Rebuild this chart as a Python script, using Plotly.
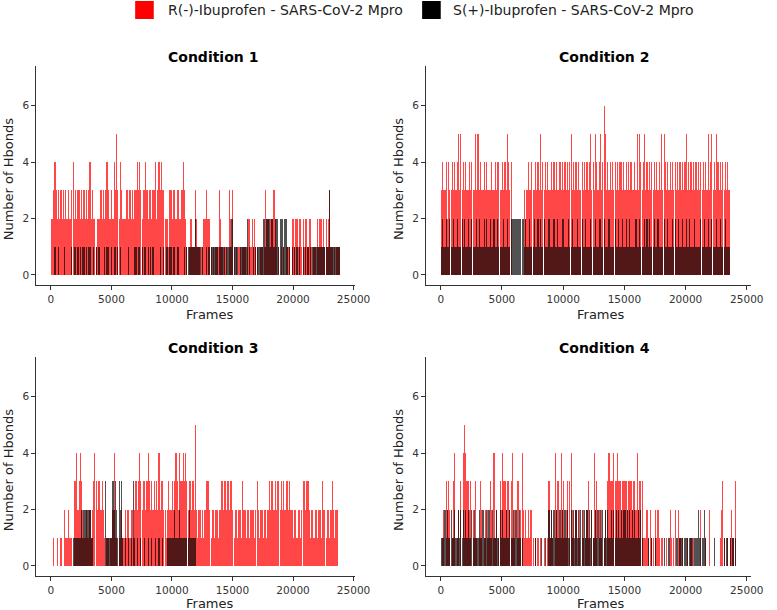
import plotly.graph_objects as go

FRAME_STEP = 100  # frames per plotted bin

# ---- Condition 1 ----
R1 = [2,2,3,4,3,2,3,2,3,2, 3,2,3,2,3,2,2,3,4,2, 3,2,3,3,2,3,2,3,2,3, 2,3,4,2,3,2,2,1,2,2,
      2,3,2,3,2,3,4,3,2,2, 3,2,4,3,5,3,2,4,3,2, 2,2,3,3,2,3,2,3,2,3, 3,4,3,4,3,2,3,3,4,3,
      2,3,3,2,3,3,4,2,3,4, 3,4,3,3,2,2,2,1,3,3, 2,3,3,2,3,3,2,2,3,4, 3,2,1,0,1,2,2,1,1,3,
      2,1,1,0,1,1,2,2,3,2, 2,2,1,0,1,0,1,1,1,3, 2,1,0,1,1,1,0,3,2,1, 3,1,0,1,0,1,1,0,1,1,
      1,0,1,2,2,1,2,1,2,1, 1,0,0,1,1,0,1,3,2,2, 1,2,2,2,3,2,1,0,1,0, 1,0,1,0,1,1,1,1,0,2,
      2,1,2,2,1,2,2,1,2,1, 2,2,1,2,2,1,0,1,1,0, 2,1,2,2,1,2,1,2,1,2, 3,1,1,0,1,0,1,1,1,0]
S1 = [0,0,0,1,0,0,1,0,0,0, 0,1,0,0,0,0,0,1,0,1, 1,0,1,0,1,0,1,1,0,1, 0,1,1,0,0,1,0,1,0,1,
      1,0,0,0,1,0,1,1,0,0, 1,0,1,1,0,1,0,1,0,0, 0,0,0,0,1,0,0,0,0,1, 1,0,1,1,0,1,0,1,1,0,
      1,0,1,0,1,0,0,0,0,0, 1,0,0,1,0,1,1,0,1,1, 0,1,1,0,1,1,0,0,0,0, 1,0,1,1,1,1,1,1,1,2,
      1,1,1,1,0,1,0,0,1,0, 1,1,1,1,1,1,1,1,0,1, 1,1,1,1,0,1,1,1,1,2, 2,1,1,1,1,0,1,1,1,1,
      1,1,2,0,1,0,0,1,0,1, 1,1,1,1,1,2,2,1,2,2, 2,1,2,2,1,2,2,2,1,2, 2,2,1,2,2,1,0,1,0,1,
      0,1,0,1,0,1,0,0,1,0, 1,0,1,0,1,0,1,1,1,1, 1,1,1,1,1,1,1,1,1,1, 3,1,1,1,1,1,1,1,1,0]

# ---- Condition 2 ----
R2 = [3,4,3,3,4,2,4,3,3,4, 3,4,3,4,5,3,5,3,4,3, 4,3,3,4,3,4,3,3,5,3, 5,3,4,3,3,4,3,4,3,3,
      3,4,3,3,4,3,4,4,3,3, 4,3,4,3,5,4,3,4,0,0, 0,0,0,0,0,0,0,0,3,2, 3,4,3,3,4,3,3,4,3,4,
      3,5,3,4,3,4,3,4,3,3, 4,3,4,3,4,3,3,4,3,4, 3,4,3,4,3,4,5,3,4,3, 4,3,4,3,3,4,3,4,3,4,
      3,4,5,3,4,3,5,4,3,4, 5,3,4,6,5,3,4,3,4,3, 4,3,4,3,4,3,4,4,3,4, 3,4,3,4,3,4,3,3,4,3,
      5,3,5,4,3,4,5,3,4,3, 4,3,4,3,4,3,4,3,4,3, 5,3,5,4,3,4,3,4,3,4, 3,4,3,4,3,4,3,4,3,4,
      5,3,4,3,4,3,4,3,4,3, 4,3,4,3,4,3,4,3,5,3, 4,5,3,4,3,5,4,3,4,3, 4,3,4,3,4,3,0,0,0,0]
S2 = [1,2,1,1,2,1,1,2,1,1, 2,1,1,2,1,1,1,2,1,2, 1,1,2,1,1,2,1,1,1,2, 1,2,1,1,1,2,1,2,1,1,
      2,1,1,2,1,1,2,1,1,1, 1,2,1,1,2,1,1,2,2,2, 2,2,2,2,2,2,2,2,1,2, 1,1,2,1,1,1,2,1,1,2,
      1,2,1,1,2,1,1,1,2,1, 1,1,2,1,1,2,1,1,1,2, 2,1,1,1,2,1,1,2,1,1, 1,2,1,1,1,2,1,1,2,1,
      1,1,2,1,1,1,2,1,1,2, 2,1,1,2,1,1,1,2,1,1, 1,1,2,1,1,2,1,1,2,1, 1,2,1,1,2,1,1,1,1,2,
      1,1,2,1,1,1,2,1,2,1, 2,1,1,1,2,1,1,2,1,1, 1,1,2,1,1,2,1,1,1,2, 1,2,1,1,2,1,1,2,1,1,
      2,1,1,2,1,1,1,2,1,1, 1,1,2,1,1,2,1,1,2,1, 1,2,1,1,1,2,1,1,2,1, 1,1,2,1,1,1,0,0,0,0]

# ---- Condition 3 ----
R3 = [0,0,1,0,0,1,0,0,1,0, 0,2,1,1,2,1,1,1,0,3, 3,4,2,3,4,3,2,1,1,2, 1,1,2,1,2,3,4,3,2,3,
      3,2,3,2,1,0,1,1,0,1, 1,2,4,1,1,0,1,1,2,1, 1,2,1,2,2,1,2,2,1,2, 3,2,3,4,3,2,3,3,2,3,
      4,3,2,3,2,3,2,3,2,4, 2,3,3,2,2,1,2,3,2,2, 3,2,3,4,3,2,4,3,3,4, 3,4,3,2,3,3,2,3,2,5,
      2,1,2,2,1,2,1,2,3,3, 3,2,1,2,2,1,2,2,1,2, 2,3,2,3,3,2,3,2,3,3, 2,1,2,2,1,2,2,1,3,2,
      2,1,2,2,1,2,2,2,1,2, 3,2,1,2,2,1,2,2,1,2, 3,2,3,3,2,3,2,3,3,2, 3,2,3,2,3,3,2,3,2,2,
      1,2,2,1,2,2,1,2,3,3, 2,3,3,2,1,2,2,1,2,2, 1,2,2,1,3,2,2,1,2,2, 1,2,3,2,1,2,2,0,0,0]
S3 = [0,0,0,0,0,0,0,0,0,0, 0,0,0,0,0,0,0,0,1,1, 1,1,1,1,1,2,1,2,2,2, 2,2,2,1,1,0,0,0,0,0,
      0,0,0,0,0,3,1,1,1,1, 1,3,2,3,2,1,3,2,3,1, 0,1,0,0,1,0,1,0,3,1, 0,1,0,0,1,0,0,1,0,0,
      1,0,0,1,0,0,1,0,0,1, 0,0,1,0,0,0,1,1,1,1, 1,1,2,1,1,1,2,1,1,1, 1,1,1,1,2,1,1,1,1,1]

# ---- Condition 4 ----
R4 = [0,1,2,0,3,2,3,2,0,1, 3,4,0,1,2,0,3,0,4,5, 4,3,3,2,3,0,2,1,3,1, 0,1,3,2,0,1,2,0,2,1,
      3,2,0,4,1,2,0,1,3,2, 4,3,3,2,3,3,2,3,4,1, 2,0,3,3,1,2,4,2,1,2, 1,2,1,2,2,1,0,1,0,1,
      0,1,0,0,1,0,0,1,3,1, 2,1,0,4,2,3,3,1,4,2, 3,1,2,3,0,3,4,2,1,0, 2,0,1,2,0,1,2,0,1,2,
      3,1,0,2,1,4,2,3,0,2, 1,2,0,1,2,0,3,4,3,3, 3,4,3,3,4,3,3,2,3,3, 3,3,2,3,3,3,2,3,3,2,
      4,2,3,3,3,1,1,1,2,1, 0,2,1,1,0,2,1,2,1,0, 1,1,0,0,1,0,0,2,1,0, 1,2,0,0,2,1,0,1,0,0,
      0,1,0,0,1,0,1,0,0,0, 0,0,2,0,0,0,1,0,0,2, 0,0,0,0,0,0,0,0,1,2, 3,1,0,0,1,0,1,2,1,1, 3]
S4 = [1,1,1,2,1,2,1,1,2,1, 1,2,1,1,2,1,2,1,2,1, 2,1,2,1,1,2,1,2,1,1, 1,2,1,1,2,1,1,2,1,2,
      1,1,2,1,1,2,1,1,2,1, 2,1,1,2,1,1,2,1,1,2, 1,2,1,1,2,1,1,0,0,0, 0,0,0,0,0,0,0,1,0,0,
      0,0,1,0,0,1,0,0,2,1, 2,1,2,1,2,1,1,2,1,2, 1,2,1,2,1,1,2,1,2,1, 2,1,2,1,2,2,1,2,1,2,
      1,2,1,2,1,1,2,1,2,1, 2,1,2,1,2,1,2,1,1,2, 1,2,1,2,1,2,1,2,1,2, 2,1,2,1,2,1,2,1,2,1,
      1,2,1,2,1,0,0,0,0,1, 0,0,1,0,0,1,0,0,0,0, 0,0,1,0,0,0,1,0,0,0, 0,0,1,1,0,1,1,1,0,1,
      1,1,0,1,1,1,0,1,1,1, 2,1,1,1,1,2,1,0,0,0, 0,0,0,1,0,0,0,0,0,0, 0,1,0,1,1,0,1,0,1,1, 1]

TITLES = ["Condition 1", "Condition 2", "Condition 3", "Condition 4"]
SERIES_R = [R1, R2, R3, R4]
SERIES_S = [S1, S2, S3, S4]
LEGEND_NAMES = ["R(-)-Ibuprofen - SARS-CoV-2 Mpro", "S(+)-Ibuprofen - SARS-CoV-2 Mpro"]
X_TICKS = [0, 5000, 10000, 15000, 20000, 25000]
Y_TICKS = [0, 2, 4, 6]

W, H = 777, 610
FONT = "DejaVu Sans"
def px(x): return x / W
def py(y): return 1 - y / H

x_dom_px = [(37, 362), (435, 767)]
x_ranges = [[-1214, 25080], [-1200, 25360]]
y_dom_px = [(66, 285), (357, 576)]
y_range = [-0.355, 7.41]
title_x = [217, 617]
title_y = [57, 348]
frames_y = [314, 603]
ylab_x = [9, 407]

RED = "rgba(255,0,0,0.72)"
BLACK = "rgba(0,0,0,0.68)"

fig = go.Figure()
layout = dict(width=W, height=H, margin=dict(l=0, r=0, t=0, b=0),
              paper_bgcolor="white", plot_bgcolor="white", barmode="overlay", bargap=0,
              showlegend=False, font=dict(family=FONT, color="#333"))
annotations = []
for i in range(4):
    row, col = divmod(i, 2)
    sfx = "" if i == 0 else str(i + 1)
    xa, ya = "x" + sfx, "y" + sfx
    for vals, color in ((SERIES_R[i], RED), (SERIES_S[i], BLACK)):
        frames = [k * FRAME_STEP + FRAME_STEP / 2 for k in range(len(vals))]
        fig.add_trace(go.Bar(x=frames, y=vals, width=FRAME_STEP * 0.93,
                             marker=dict(color=color, line=dict(width=0)),
                             xaxis=xa, yaxis=ya, hoverinfo="skip"))
    x0, x1 = x_dom_px[col]
    y0, y1 = y_dom_px[row]
    axis_common = dict(showline=True, linecolor="#333", linewidth=1, showgrid=False,
                       zeroline=False, ticks="outside", ticklen=4, tickcolor="#333",
                       tickfont=dict(family=FONT, size=10.5, color="#333"))
    layout["xaxis" + sfx] = dict(domain=[px(x0), px(x1)], range=x_ranges[col], anchor=ya,
                                 tickvals=X_TICKS, ticktext=[str(t) for t in X_TICKS], **axis_common)
    layout["yaxis" + sfx] = dict(domain=[py(y1), py(y0)], range=y_range, anchor=xa,
                                 tickvals=Y_TICKS, ticktext=[str(t) for t in Y_TICKS], **axis_common)
    annotations.append(dict(text="<b>" + TITLES[i] + "</b>", x=px(title_x[col]), y=py(title_y[row]),
                            xref="paper", yref="paper", showarrow=False, xanchor="center", yanchor="middle",
                            font=dict(family=FONT, size=14, color="black")))
    annotations.append(dict(text="Frames", x=px(title_x[col] - 3), y=py(frames_y[row]),
                            xref="paper", yref="paper", showarrow=False, xanchor="center", yanchor="middle",
                            font=dict(family=FONT, size=13, color="#222")))
    annotations.append(dict(text="Number of Hbonds", x=px(ylab_x[col]), y=py((y0 + y1) / 2 + 4),
                            xref="paper", yref="paper", showarrow=False, textangle=-90,
                            xanchor="center", yanchor="middle",
                            font=dict(family=FONT, size=13, color="#222")))

# manual legend
shapes = []
for (sx, tx), color, name in zip(((138, 170), (431, 460)), ("#FF0000", "#000000"), LEGEND_NAMES):
    shapes.append(dict(type="rect", xref="paper", yref="paper", x0=px(sx), x1=px(sx + 19),
                       y0=py(19), y1=py(1), fillcolor=color, line=dict(width=0)))
    annotations.append(dict(text=name, x=px(tx), y=py(10), xref="paper", yref="paper",
                            showarrow=False, xanchor="left", yanchor="middle",
                            font=dict(family=FONT, size=14, color="#222")))

layout["annotations"] = annotations
layout["shapes"] = shapes
fig.update_layout(**layout)
# remove the default 8px page margin so the figure fills the 777x610 window exactly
fig.write_html("out.html", config={"displayModeBar": False},
               post_script="document.body.style.margin='0';")
